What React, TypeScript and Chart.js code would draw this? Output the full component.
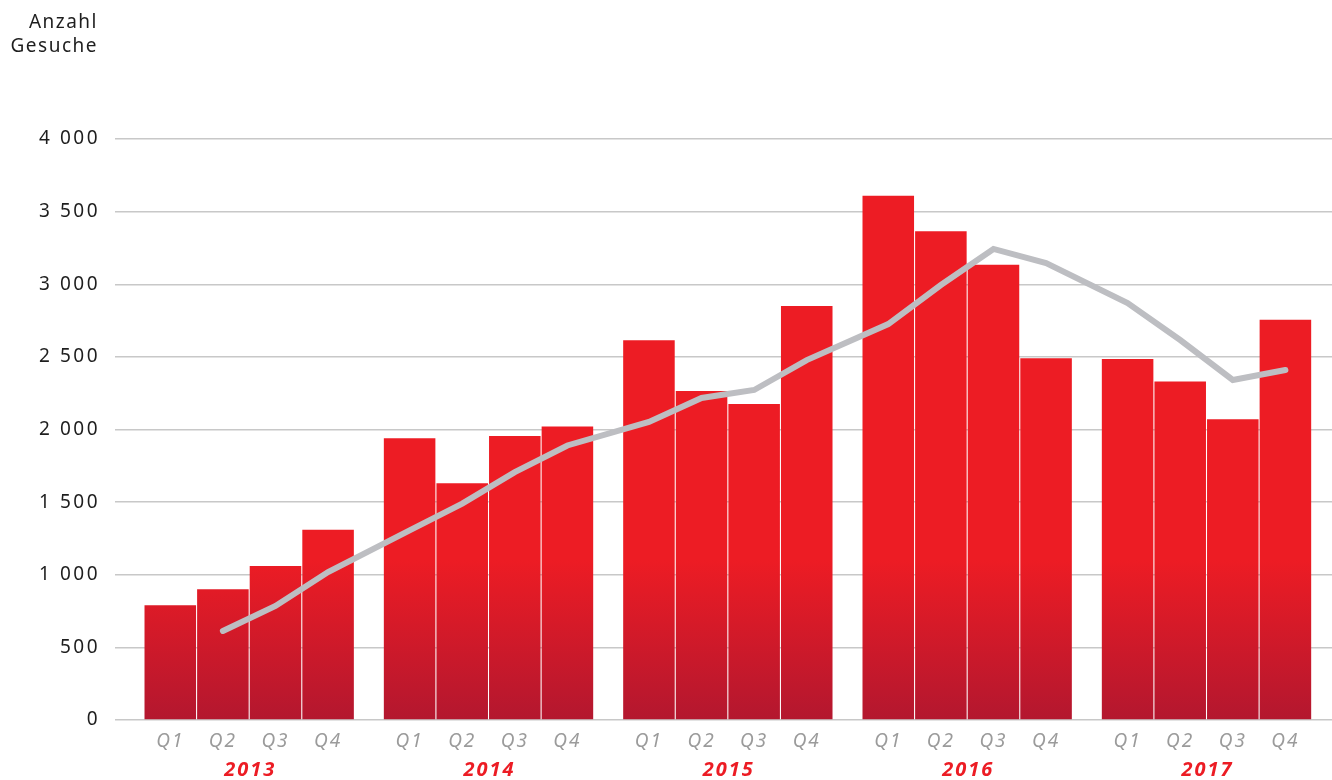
import React, { useEffect, useRef } from "react";
import { Chart, registerables } from "chart.js";

Chart.register(...registerables);

const years = ["2013", "2014", "2015", "2016", "2017"];
const quarters = ["Q1", "Q2", "Q3", "Q4"];
const gesuche = [790, 900, 1060, 1310, 1940, 1630, 1955, 2020, 2615, 2265, 2175, 2850, 3610, 3365, 3135, 2490, 2485, 2330, 2070, 2755];
const trend: (number | null)[] = [null, 613, 785, 1019, 1305, 1490, 1707, 1890, 2052, 2217, 2272, 2478, 2726, 2995, 3243, 3146, 2871, 2616, 2341, 2410];
const yTicks = [0, 500, 1000, 1500, 2000, 2500, 3000, 3500, 4000];
const titleLines = ["Anzahl", "Gesuche"];

const GAP = 0.55; // gap between year groups, in bar units
const xPos = gesuche.map((_, i) => Math.floor(i / 4) * (4 + GAP) + (i % 4));
const X_MIN = -1.051;
const X_MAX = X_MIN + 1217 / 52.6;

const FONT = "'Noto Sans', sans-serif";

function fmt(v: number) {
  if (v >= 1000) {
    const r = v % 1000;
    return Math.floor(v / 1000) + " " + String(r).padStart(3, "0");
  }
  return String(v);
}

const textPlugin = {
  id: "textPlugin",
  beforeDraw(chart: any) {
    chart.ctx.letterSpacing = "2.5px"; // y tick labels
  },
  afterDatasetsDraw(chart: any) {
    chart.ctx.letterSpacing = "2px"; // x tick labels (z: 1)
  },
  afterDraw(chart: any) {
    const ctx = chart.ctx;
    ctx.save();
    ctx.letterSpacing = "1.5px";
    ctx.fillStyle = "#1e1e1e";
    ctx.font = `19px ${FONT}`;
    ctx.textAlign = "right";
    ctx.textBaseline = "alphabetic";
    titleLines.forEach((t, i) => ctx.fillText(t, 98, 28 + i * 24));
    ctx.letterSpacing = "2px";
    ctx.font = `italic bold 20px ${FONT}`;
    ctx.fillStyle = "#ec1c24";
    ctx.textAlign = "center";
    ctx.textBaseline = "middle";
    const xs = chart.scales.x;
    years.forEach((y, i) => {
      const c = (xPos[i * 4 + 1] + xPos[i * 4 + 2]) / 2;
      ctx.fillText(y, xs.getPixelForValue(c) + 1, 770);
    });
    ctx.restore();
    ctx.letterSpacing = "0px";
  },
};

export default function App() {
  const ref = useRef<HTMLCanvasElement>(null);
  useEffect(() => {
    if (!ref.current) return;
    const barData = gesuche.map((v, i) => ({ x: xPos[i], y: v }));
    const lineData = trend
      .map((v, i) => ({ x: xPos[i], y: v }))
      .filter((p) => p.y !== null);
    const chart = new Chart(ref.current, {
      type: "bar",
      data: {
        datasets: [
          {
            type: "line",
            data: lineData as any,
            borderColor: "#bdbec2",
            borderWidth: 6,
            borderCapStyle: "round",
            borderJoinStyle: "miter",
            pointRadius: 0,
            tension: 0,
            order: 0,
          } as any,
          {
            type: "bar",
            data: barData as any,
            backgroundColor: (c: any) => {
              const ch = c.chart;
              const area = ch.chartArea;
              if (!area) return "#ed1c24";
              const ys = ch.scales.y;
              const g = ch.ctx.createLinearGradient(0, ys.getPixelForValue(1100), 0, ys.getPixelForValue(0));
              g.addColorStop(0, "#ed1c24");
              g.addColorStop(1, "#b3172f");
              return g;
            },
            barPercentage: 0.98,
            categoryPercentage: 1,
            borderWidth: 0,
            order: 1,
          } as any,
        ],
      },
      options: {
        animation: false,
        responsive: true,
        maintainAspectRatio: false,
        layout: { padding: { top: 139, right: 0, left: 0, bottom: 0 } },
        plugins: { legend: { display: false }, tooltip: { enabled: false } },
        scales: {
          x: {
            type: "linear",
            min: X_MIN,
            max: X_MAX,
            offset: false,
            grid: { display: false, drawTicks: false },
            border: { display: false },
            afterBuildTicks: (s: any) => {
              s.ticks = xPos.map((v) => ({ value: v }));
            },
            afterFit: (s: any) => {
              s.height = 60;
            },
            ticks: {
              z: 1,
              autoSkip: false,
              maxRotation: 0,
              padding: 10,
              color: "#9b9b9b",
              font: { family: FONT, size: 19, style: "italic" },
              callback: (_v: any, i: number) => quarters[i % 4],
            },
          },
          y: {
            min: 0,
            max: 4000,
            afterBuildTicks: (s: any) => {
              s.ticks = yTicks.map((v) => ({ value: v }));
            },
            afterFit: (s: any) => {
              s.width = 115;
            },
            grid: { color: "#c8c8c8", lineWidth: 1.5, drawTicks: false },
            border: { display: false },
            ticks: {
              padding: 15,
              color: "#1e1e1e",
              font: { family: FONT, size: 19 },
              callback: (v: any) => fmt(Number(v)),
            },
          },
        },
      } as any,
      plugins: [textPlugin],
    });
    return () => chart.destroy();
  }, []);
  return (
    <div style={{ position: "absolute", left: 0, top: 0, width: 1332, height: 780 }}>
      <canvas ref={ref} />
    </div>
  );
}
